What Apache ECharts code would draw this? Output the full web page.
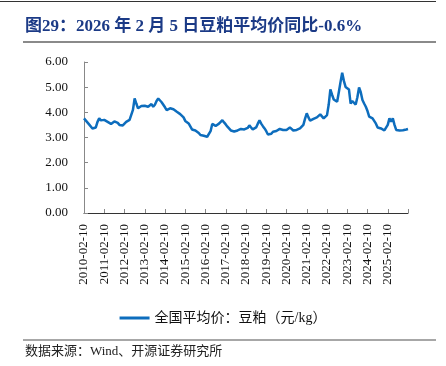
<!DOCTYPE html>
<html>
<head>
<meta charset="utf-8">
<script src="https://cdn.jsdelivr.net/npm/echarts@6/dist/echarts.min.js"></script>
<style>
  html, body { margin: 0; padding: 0; background: #fff; }
  #main { width: 446px; height: 366px; }
</style>
</head>
<body>
<div id="main"></div>
<script>
// 月度取点，2010-02 ~ 2026-02
var startYear = 2010;
var yTicks = [0, 1, 2, 3, 4, 5, 6];
var seriesName = '全国平均价：豆粕（元/kg）';

var price = [
    // 2010-02 .. 2011-01
    3.76, 3.68, 3.60, 3.52, 3.45, 3.36, 3.32, 3.40, 3.62, 3.76, 3.68, 3.66,
    // 2011
    3.70, 3.72, 3.62, 3.55, 3.54, 3.60, 3.64, 3.65, 3.58, 3.50, 3.43, 3.48,
    // 2012
    3.55, 3.62, 3.69, 3.70, 3.75, 4.10, 4.55, 4.35, 4.16, 4.20, 4.25, 4.22,
    // 2013
    4.26, 4.29, 4.22, 4.28, 4.33, 4.22, 4.30, 4.45, 4.55, 4.48, 4.40, 4.30,
    // 2014
    4.20, 4.09, 4.12, 4.16, 4.18, 4.12, 4.05, 4.02, 3.98, 3.93, 3.89, 3.80,
    // 2015
    3.66, 3.62, 3.56, 3.50, 3.32, 3.30, 3.28, 3.26, 3.18, 3.10, 3.09, 3.07,
    // 2016
    3.06, 3.03, 3.00, 3.25, 3.54, 3.50, 3.46, 3.48, 3.55, 3.62, 3.69, 3.60,
    // 2017
    3.52, 3.43, 3.36, 3.28, 3.23, 3.24, 3.26, 3.28, 3.30, 3.34, 3.33, 3.32,
    // 2018
    3.33, 3.38, 3.48, 3.40, 3.32, 3.36, 3.40, 3.55, 3.68, 3.55, 3.45, 3.36,
    // 2019
    3.25, 3.12, 3.06, 3.15, 3.23, 3.24, 3.26, 3.30, 3.34, 3.36, 3.30, 3.26,
    // 2020
    3.30, 3.36, 3.40, 3.34, 3.28, 3.26, 3.30, 3.33, 3.36, 3.42, 3.50, 3.75,
    // 2021
    3.96, 3.80, 3.67, 3.70, 3.74, 3.76, 3.80, 3.86, 3.92, 3.85, 3.76, 3.80,
    // 2022
    3.89, 4.30, 4.91, 4.70, 4.51, 4.45, 4.42, 4.80, 5.20, 5.57, 5.25, 5.01,
    // 2023
    4.95, 4.91, 4.35, 4.45, 4.51, 4.31, 4.60, 4.99, 4.80, 4.49, 4.35, 4.22,
    // 2024
    4.05, 3.83, 3.80, 3.76, 3.73, 3.55, 3.40, 3.38, 3.36, 3.34, 3.28, 3.23,
    // 2025-02 .. 2026-02
    3.50, 3.76, 3.63, 3.76, 3.50, 3.30, 3.28, 3.28, 3.27, 3.29, 3.30, 3.32, 3.34
];

// 日期类目
var dates = [];
for (var i = 0; i < price.length; i++) {
    var m = 1 + i;                       // 从2月开始
    var y = startYear + Math.floor(m / 12);
    var mm = (m % 12) + 1;
    dates.push(y + '-' + (mm < 10 ? '0' + mm : mm) + '-10');
}

var serif = '"Times New Roman", "Liberation Serif", "Noto Sans CJK SC", serif';

var chart = echarts.init(document.getElementById('main'));

var option = {
    animation: false,
    grid: { left: 84, right: 38, top: 62, bottom: 153, containLabel: false },
    xAxis: {
        type: 'category',
        data: dates,
        boundaryGap: false,
        axisLine: { lineStyle: { color: '#333', width: 1 } },
        axisTick: {
            inside: true, length: 4,
            interval: function (idx) { return idx % 12 === 0; },
            lineStyle: { color: '#888' }
        },
        axisLabel: {
            rotate: 90,
            margin: 11,
            interval: function (idx) { return idx % 12 === 0 && idx < 190; },
            fontFamily: serif,
            fontSize: 13,
            color: '#111'
        },
        splitLine: { show: false }
    },
    yAxis: {
        type: 'value',
        min: yTicks[0],
        max: yTicks[yTicks.length - 1],
        interval: 1,
        axisLine: { show: true, lineStyle: { color: '#888', width: 1 } },
        axisTick: { show: true, inside: true, length: 4, lineStyle: { color: '#888' } },
        axisLabel: {
            margin: 16,
            fontFamily: serif,
            fontSize: 13,
            color: '#111',
            formatter: function (v) { return v.toFixed(2); }
        },
        splitLine: { show: false }
    },
    legend: {
        top: 306,
        left: 'center',
        icon: 'rect',
        itemWidth: 30,
        itemHeight: 3,
        itemGap: 10,
        textStyle: { fontFamily: serif, fontSize: 14, color: '#111' },
        data: [seriesName]
    },
    series: [{
        name: seriesName,
        type: 'line',
        data: price,
        symbol: 'none',
        showSymbol: false,
        lineStyle: { color: '#0d6dbd', width: 2.5 },
        itemStyle: { color: '#0d6dbd' }
    }],
    graphic: [
        { type: 'line', shape: { x1: 0, y1: 1.5, x2: 436, y2: 1.5 }, style: { stroke: '#333', lineWidth: 1 } },
        {
            type: 'text', left: 25, top: 18,
            style: {
                text: '图29：2026 年 2 月 5 日豆粕平均价同比-0.6%',
                font: 'bold 17px ' + serif,
                fill: '#1b3a86'
            }
        },
        { type: 'line', shape: { x1: 23, y1: 42, x2: 436, y2: 42 }, style: { stroke: '#8a8a8a', lineWidth: 2 } },
        { type: 'line', shape: { x1: 23, y1: 340, x2: 436, y2: 340 }, style: { stroke: '#8a8a8a', lineWidth: 1.5 } },
        {
            type: 'text', left: 25, top: 345,
            style: {
                text: '数据来源：Wind、开源证券研究所',
                font: '13px ' + serif,
                fill: '#222'
            }
        }
    ]
};

chart.setOption(option);
</script>
</body>
</html>
